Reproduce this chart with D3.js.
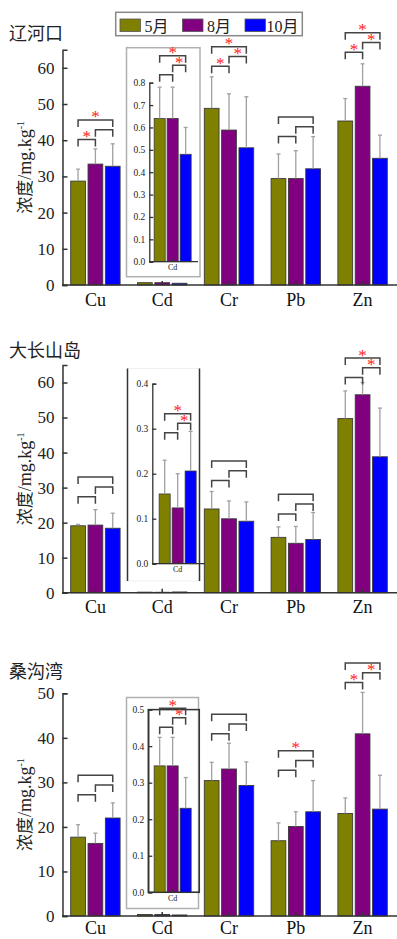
<!DOCTYPE html>
<html>
<head>
<meta charset="utf-8">
<script src="https://cdn.jsdelivr.net/npm/d3@7"></script>
<style>
body { margin: 0; background: #fff; }
svg { display: block; }
</style>
</head>
<body>
<div class="chart"></div>
<script>
// categories
const elements = ["Cu", "Cd", "Cr", "Pb", "Zn"];
const months = ["5月", "8月", "10月"];
const sites = ["辽河口", "大长山岛", "桑沟湾"];
const colors = ["#808000", "#800080", "#0000ff"];

// 辽河口: mean and sd per element, per month
const liaoMean = [[28.7, 33.4, 32.8], [0.64, 0.64, 0.48], [48.8, 42.8, 37.9], [29.4, 29.4, 32.1], [45.3, 54.9, 35.0]];
const liaoSd = [[3.3, 4.2, 6.2], [0.14, 0.14, 0.12], [8.7, 10.0, 14.1], [6.8, 7.7, 8.9], [6.2, 6.2, 6.4]];
// significance for pairs [5-8, 8-10, 5-10]
const liaoSig = [[1, 0, 1], [0, 1, 1], [1, 1, 1], [0, 0, 0], [1, 1, 1]];
// level of the lowest bracket (Cd in inset units)
const liaoBracket = [40.2, 0.835, 60.4, 41.0, 64.3];

// 大长山岛
const daMean = [[19.1, 19.3, 18.4], [0.155, 0.124, 0.206], [23.9, 21.1, 20.4], [15.8, 14.1, 15.2], [49.7, 56.5, 38.8]];
const daSd = [[0.4, 4.4, 4.3], [0.075, 0.076, 0.088], [5.0, 5.1, 5.5], [3.0, 4.8, 7.7], [7.9, 3.5, 13.9]];
const daSig = [[0, 0, 0], [0, 1, 1], [0, 0, 0], [0, 0, 0], [0, 1, 1]];
const daBracket = [27.4, 0.291, 32.0, 22.5, 61.4];

// 桑沟湾
const sgMean = [[17.7, 16.3, 22.0], [0.346, 0.346, 0.23], [30.4, 33.0, 29.3], [16.9, 20.1, 23.4], [23.0, 40.9, 24.0]];
const sgSd = [[2.8, 2.3, 3.4], [0.078, 0.078, 0.084], [4.1, 5.8, 5.3], [4.0, 3.3, 7.0], [3.5, 9.3, 7.6]];
const sgSig = [[0, 0, 0], [0, 1, 1], [0, 0, 0], [0, 0, 1], [1, 1, 0]];
const sgBracket = [27.2, 0.452, 40.9, 32.7, 52.4];

// tick values
const yTicks65 = [0, 10, 20, 30, 40, 50, 60];
const yTicks50 = [0, 10, 20, 30, 40, 50];
const insTicks1 = [0, 0.1, 0.2, 0.3, 0.4, 0.5, 0.6, 0.7, 0.8];
const insTicks2 = [0, 0.1, 0.2, 0.3, 0.4];
const insTicks3 = [0, 0.1, 0.2, 0.3, 0.4, 0.5];

const serif = "'Liberation Serif','Times New Roman','Noto Sans CJK SC',serif";
const cjk = "'Noto Sans CJK SC',sans-serif";
const pairs = [[0, 1], [1, 2], [0, 2]];

let svg = d3.select(".chart").append("svg")
  .attr("width", 397)
  .attr("height", 939);

const panels = [
  { title: sites[0], mean: liaoMean, sd: liaoSd, sig: liaoSig, br: liaoBracket,
    y0: 285, yTop: 49.7, yMax: 65, ticks: yTicks65, titleY: 40, labPad: 8,
    box: { x: 126.5, y: 47.7, w: 73.5, h: 229, style: "grey" },
    ins: { x0: 149.3, x1: 196, y0: 261.7, yTop: 82.7, max: 0.8, ticks: insTicks1 } },
  { title: sites[1], mean: daMean, sd: daSd, sig: daSig, br: daBracket,
    y0: 592.7, yTop: 365, yMax: 65, ticks: yTicks65, titleY: 357, labPad: 8,
    box: { x: 127.5, y: 368.5, w: 72, h: 212.5, style: "sides" },
    ins: { x0: 152.3, x1: 203, y0: 563.7, yTop: 383.7, max: 0.4, ticks: insTicks2 } },
  { title: sites[2], mean: sgMean, sd: sgSd, sig: sgSig, br: sgBracket,
    y0: 916, yTop: 693.3, yMax: 50, ticks: yTicks50, titleY: 678, labPad: 5,
    box: { x: 126.5, y: 697.5, w: 72, h: 211, style: "grey" },
    ins: { x0: 148.3, x1: 197, y0: 892.3, yTop: 709.6, max: 0.5, ticks: insTicks3, frame: 199.3 } }
];

function brackets(g, xs, yBase, sig, step, leg) {
  pairs.forEach((pr, k) => {
    let top = yBase - k * step;
    let xa = xs[pr[0]], xb = xs[pr[1]];
    g.append("path")
      .attr("d", `M${xa},${top + leg}V${top}H${xb}V${top + leg}`)
      .attr("fill", "none")
      .attr("stroke", "#444")
      .attr("stroke-width", 1.5);
    if (sig[k]) {
      g.append("text")
        .attr("x", (xa + xb) / 2)
        .attr("y", top + 2.5)
        .attr("text-anchor", "middle")
        .attr("fill", "#ff1a1a")
        .style("font-family", serif)
        .style("font-size", "17px")
        .text("*");
    }
  });
}

function errBars(g, rows, xf, y, cap) {
  let eb = g.selectAll(null).data(rows).join("g")
    .attr("stroke", "#a0a0a0")
    .attr("stroke-width", 1.3);
  eb.append("line")
    .attr("x1", d => xf(d)).attr("x2", d => xf(d))
    .attr("y1", d => y(d.v)).attr("y2", d => y(d.v + d.sd));
  eb.append("line")
    .attr("x1", d => xf(d) - cap).attr("x2", d => xf(d) + cap)
    .attr("y1", d => y(d.v + d.sd)).attr("y2", d => y(d.v + d.sd));
}

function drawPanel(p) {
  let g = svg.append("g");
  let x = d3.scaleBand().domain(elements).range([62, 396]);
  let sub = d3.scaleBand().domain(months).range([-24.7, 24.7]).paddingInner(0.15);
  let y = d3.scaleLinear().domain([0, p.yMax]).range([p.y0, p.yTop]);

  g.append("text")
    .attr("x", 9)
    .attr("y", p.titleY)
    .style("font-family", cjk)
    .style("font-size", "18px")
    .attr("fill", "#222")
    .text(p.title);

  let yl = g.append("text")
    .attr("transform", `translate(31,${(p.y0 + p.yTop) / 2}) rotate(-90)`)
    .attr("text-anchor", "middle")
    .attr("fill", "#222")
    .style("font-family", serif)
    .style("font-size", "18px");
  yl.append("tspan").style("font-family", cjk).style("font-size", "17px").text("浓度");
  yl.append("tspan").text("/mg.kg");
  yl.append("tspan").attr("dy", -7).style("font-size", "10px").text("-1");

  let rows = [];
  elements.forEach((el, i) => months.forEach((m, j) => {
    rows.push({ el: el, m: m, j: j, v: p.mean[i][j], sd: p.sd[i][j] });
  }));
  let cx = d => x(d.el) + x.bandwidth() / 2 + sub(d.m) + sub.bandwidth() / 2;

  g.selectAll("rect.bar").data(rows).join("rect")
    .attr("class", "bar")
    .attr("x", d => x(d.el) + x.bandwidth() / 2 + sub(d.m))
    .attr("y", d => y(d.v))
    .attr("width", sub.bandwidth())
    .attr("height", d => p.y0 - y(d.v))
    .attr("fill", d => colors[d.j])
    .attr("stroke", "#3a3a3a")
    .attr("stroke-width", 0.9);

  errBars(g, rows.filter(d => d.el !== "Cd"), cx, y, 2);

  // axes
  let ya = g.append("g")
    .attr("transform", "translate(62.5,0)")
    .call(d3.axisLeft(y).tickValues(p.ticks).tickSizeInner(-5).tickSizeOuter(-5).tickPadding(8));
  ya.selectAll("text").style("font-family", serif).style("font-size", "17px").attr("fill", "#222");
  let xa = g.append("g")
    .attr("transform", `translate(0,${p.y0})`)
    .call(d3.axisBottom(x).tickSizeInner(-4).tickSizeOuter(0).tickPadding(p.labPad));
  xa.selectAll("text").style("font-family", serif).style("font-size", "18px").attr("fill", "#111");
  [ya, xa].forEach(a => {
    a.selectAll("path, line").attr("stroke", "#333").attr("stroke-width", 1.5);
  });
  xa.select(".domain").attr("d", `M62,0H397`);

  // brackets for main groups
  elements.forEach((el, i) => {
    if (el === "Cd") return;
    let xs = months.map(m => x(el) + x.bandwidth() / 2 + sub(m) + sub.bandwidth() / 2);
    brackets(g, xs, y(p.br[i]), p.sig[i], 9.8, 7);
  });

  drawInset(g, p);
}

function drawInset(g, p) {
  let b = p.box, s = p.ins;
  if (b.style === "grey") {
    g.append("rect")
      .attr("x", b.x).attr("y", b.y).attr("width", b.w).attr("height", b.h)
      .attr("fill", "#fff").attr("stroke", "#b0b0b0").attr("stroke-width", 1.5);
  } else {
    g.append("rect")
      .attr("x", b.x).attr("y", b.y).attr("width", b.w).attr("height", b.h)
      .attr("fill", "#fff").attr("stroke", "#f0f0f0").attr("stroke-width", 1);
    g.append("path")
      .attr("d", `M${b.x},${b.y}V${b.y + b.h}M${b.x + b.w},${b.y}V${b.y + b.h}`)
      .attr("stroke", "#333").attr("stroke-width", 1.5);
  }
  if (s.frame) {
    g.append("rect")
      .attr("x", s.x0).attr("y", s.yTop).attr("width", s.frame - s.x0).attr("height", s.y0 - s.yTop)
      .attr("fill", "none").attr("stroke", "#333").attr("stroke-width", 1.5);
  }

  let ix = d3.scaleBand().domain(["Cd"]).range([s.x0, s.x1]);
  let isub = d3.scaleBand().domain(months).range([-18.5, 18.5]).paddingInner(0.15);
  let iy = d3.scaleLinear().domain([0, s.max]).range([s.y0, s.yTop]);

  let rows = months.map((m, j) => ({ el: "Cd", m: m, j: j, v: p.mean[1][j], sd: p.sd[1][j] }));
  let cx = d => ix("Cd") + ix.bandwidth() / 2 + isub(d.m) + isub.bandwidth() / 2;

  g.selectAll("rect.ibar").data(rows).join("rect")
    .attr("class", "ibar")
    .attr("x", d => ix("Cd") + ix.bandwidth() / 2 + isub(d.m))
    .attr("y", d => iy(d.v))
    .attr("width", isub.bandwidth())
    .attr("height", d => s.y0 - iy(d.v))
    .attr("fill", d => colors[d.j])
    .attr("stroke", "#3a3a3a")
    .attr("stroke-width", 0.8);
  errBars(g, rows, cx, iy, 2);

  let ya = g.append("g")
    .attr("transform", `translate(${s.x0},0)`)
    .call(d3.axisLeft(iy).tickValues(s.ticks).tickFormat(d3.format(".1f"))
      .tickSizeInner(-4).tickSizeOuter(-4).tickPadding(4));
  ya.selectAll("text").style("font-family", serif).style("font-size", "9.5px").attr("fill", "#222");
  let xa = g.append("g")
    .attr("transform", `translate(0,${s.y0})`)
    .call(d3.axisBottom(ix).tickSizeInner(-3).tickSizeOuter(0).tickPadding(3));
  xa.selectAll("text").style("font-family", serif).style("font-size", "8px").attr("fill", "#222");
  [ya, xa].forEach(a => a.selectAll("path, line").attr("stroke", "#333").attr("stroke-width", 1.3));
  xa.select(".domain").attr("d", `M${s.x0},0H${(s.frame || s.x1 + 2)}`);

  let xs = months.map(m => ix("Cd") + ix.bandwidth() / 2 + isub(m) + isub.bandwidth() / 2);
  brackets(g, xs, iy(p.br[1]), p.sig[1], 9.5, 7);
}

panels.forEach(drawPanel);

// legend
let lg = svg.append("g");
lg.append("rect")
  .attr("x", 115.7).attr("y", 12.3).attr("width", 186.6).attr("height", 23.4)
  .attr("fill", "#fff").attr("stroke", "#888").attr("stroke-width", 1.5);
let li = lg.selectAll("g.item").data(months).join("g")
  .attr("class", "item")
  .attr("transform", (d, i) => `translate(${120 + i * 62.5},0)`);
li.append("rect")
  .attr("x", 0).attr("y", 19).attr("width", 20.5).attr("height", 12.5)
  .attr("fill", (d, i) => colors[i])
  .attr("stroke", "#555").attr("stroke-width", 0.8);
li.append("text")
  .attr("x", (d, i) => i === 2 ? 21.5 : 24.5)
  .attr("y", 32)
  .style("font-family", serif)
  .style("font-size", "16px")
  .attr("fill", "#222")
  .text(d => d);
</script>
</body>
</html>
